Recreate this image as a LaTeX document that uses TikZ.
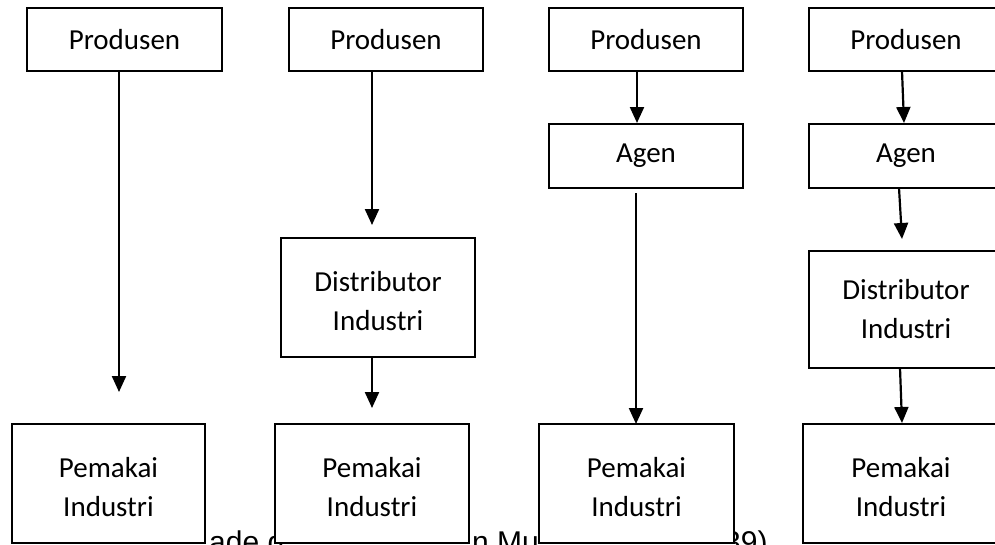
\documentclass[tikz,border=0pt]{standalone}
\usepackage{fontspec}
\setmainfont{Carlito}
\newfontfamily\capfont{Liberation Sans}
\usetikzlibrary{arrows.meta}
\newcommand{\lowstrut}{\rule{0pt}{28pt}}
\tikzset{
  box/.style={draw=black, line width=1.8pt, fill=white, inner sep=0pt,
    align=center, font=\fontsize{29}{39}\selectfont},
  arr/.style={line width=2.2pt, -{Triangle[length=16pt,width=14pt]}},
  captext/.style={anchor=base west, inner sep=0pt, font=\capfont\fontsize{30}{36}\selectfont}
}
\begin{document}
\begin{tikzpicture}[x=1pt,y=-1pt]
\useasboundingbox (0,0) rectangle (995,544);
\clip (0,0) rectangle (995,544);
\fill[white] (0,0) rectangle (995,544);
% caption fragments (mostly hidden behind boxes)
\node[captext] (c1) at (209,552.5) {ade d};
\node[captext] (c2) at (472,552.5) {n Mu};
\node[captext] (c3) at (724,552.5) {39)};
% column 1
\node[box, minimum width=195pt, minimum height=63pt] (p1) at (124.5,39.5) {Produsen};
\node[box, minimum width=193pt, minimum height=119pt] (u1) at (108.5,483.5) {\lowstrut Pemakai\\Industri};
% column 2
\node[box, minimum width=194pt, minimum height=63pt] (p2) at (386,39.5) {Produsen};
\node[box, minimum width=194pt, minimum height=119pt] (d2) at (378,297.5) {\lowstrut Distributor\\Industri};
\node[box, minimum width=194pt, minimum height=119pt] (u2) at (372,483.5) {\lowstrut Pemakai\\Industri};
% column 3
\node[box, minimum width=194pt, minimum height=63pt] (p3) at (646,39.5) {Produsen};
\node[box, minimum width=194pt, minimum height=64pt] (a3) at (646,156) {Agen};
\node[box, minimum width=195pt, minimum height=119pt] (u3) at (636.5,483.5) {\lowstrut Pemakai\\Industri};
% column 4
\node[box, minimum width=194pt, minimum height=63pt] (p4) at (906,39.5) {Produsen};
\node[box, minimum width=194pt, minimum height=64pt] (a4) at (906,156) {Agen};
\node[box, minimum width=194pt, minimum height=117pt] (d4) at (906,309.5) {Distributor\\Industri};
\node[box, minimum width=196pt, minimum height=119pt] (u4) at (901,483.5) {\lowstrut Pemakai\\Industri};
% arrow end points
\coordinate (t1) at (119,392);
\coordinate (t2a) at (372,225);
\coordinate (t2b) at (372,408);
\coordinate (t3a) at (637,123);
\coordinate (s3b) at (636,193);
\coordinate (t3b) at (636,424);
\coordinate (s4a) at (902,71);
\coordinate (t4a) at (904,123);
\coordinate (s4b) at (899,188);
\coordinate (t4b) at (902,239);
\coordinate (s4c) at (900,368);
\coordinate (t4c) at (902,423);
% arrows
\draw[arr] (p1.south -| t1) -- (t1);
\draw[arr] (p2.south -| t2a) -- (t2a);
\draw[arr] (d2.south -| t2b) -- (t2b);
\draw[arr] (p3.south -| t3a) -- (t3a);
\draw[arr] (s3b) -- (t3b);
\draw[arr] (s4a) -- (t4a);
\draw[arr] (s4b) -- (t4b);
\draw[arr] (s4c) -- (t4c);
\end{tikzpicture}
\end{document}
